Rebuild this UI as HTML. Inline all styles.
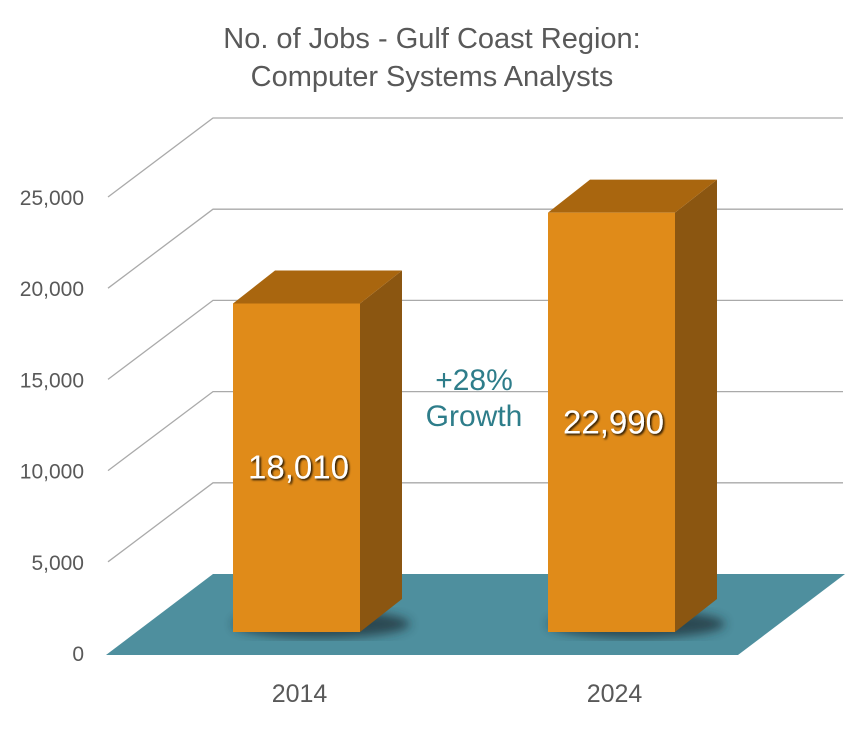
<!DOCTYPE html>
<html><head><meta charset="utf-8"><style>
body{margin:0;background:#fff;}
svg{display:block;font-family:"Liberation Sans",sans-serif;}
</style></head><body>
<svg id="chart" width="863" height="755">
<defs><filter id="blur"><feGaussianBlur stdDeviation="5"/></filter>
<filter id="ts"><feDropShadow dx="1.5" dy="1.5" stdDeviation="1" flood-color="#000" flood-opacity="0.9"/></filter></defs>
<text x="432" y="48" text-anchor="middle" font-size="29" fill="#595959">No. of Jobs - Gulf Coast Region:</text>
<text x="432" y="86" text-anchor="middle" font-size="29" fill="#595959">Computer Systems Analysts</text>
<g id="grid"></g><g id="floor"></g><g id="bars"></g><g id="labels"></g>
<text x="474" y="390" text-anchor="middle" font-size="30" fill="#2e7d8a">+28%</text>
<text x="474" y="426" text-anchor="middle" font-size="30" fill="#2e7d8a">Growth</text>
</svg>
<script>
const categories=["2014","2024"];
const values=[18010,22990];
const ticks=[0,5000,10000,15000,20000,25000];
const tickLabels=["0","5,000","10,000","15,000","20,000","25,000"];
const NS="http://www.w3.org/2000/svg";
const svg=document.getElementById('chart');
function mk(t,a,p){const e=document.createElementNS(NS,t);for(const k in a)e.setAttribute(k,a[k]);p.appendChild(e);return e;}
const k=91.2/5000;
const yFront=v=>653-v*k, yBack=v=>574-v*k, yBar=v=>632-v*k;
const grid=document.getElementById('grid');
ticks.forEach((t,i)=>{
 if(t>0){
 const l=mk('polyline',{points:`108,${yFront(t)} 213,${yBack(t)} 843,${yBack(t)}`,fill:'none',stroke:'#aaa','stroke-width':1.3},grid);
 
 }
 const tx=mk('text',{x:84,y:yFront(t)+8,'text-anchor':'end','font-size':21,fill:'#595959'},grid);
 tx.textContent=tickLabels[i];
 
 
});
const floor=mk('polygon',{points:'106,655 213,574 845,574 738,655',fill:'#4e8f9e'},document.getElementById('floor'));


const bars=document.getElementById('bars'),labels=document.getElementById('labels');
const xs=[233,548],w=127,dx=42,dy=33;
categories.forEach((c,i)=>{
 const x=xs[i],top=yBar(values[i]),bot=632;
 const g=mk('g',{},bars);
 
 
 mk('ellipse',{cx:x+w/2+25,cy:bot-8,rx:w/2+25,ry:14,fill:'#1a2b30',opacity:0.7,filter:'url(#blur)'},g);
 mk('polygon',{points:`${x+w},${top} ${x+w+dx},${top-dy} ${x+w+dx},${bot-dy} ${x+w},${bot}`,fill:'#8b5611'},g);
 mk('polygon',{points:`${x},${top} ${x+dx},${top-dy} ${x+w+dx},${top-dy} ${x+w},${top}`,fill:'#a9660f'},g);
 mk('rect',{x:x,y:top,width:w,height:bot-top,fill:'#e08b19'},g);
 const v=mk('text',{x:x+w/2+2,y:(top+bot)/2+11,'text-anchor':'middle','font-size':33,fill:'#fff',filter:'url(#ts)'},labels);
 v.textContent=values[i].toLocaleString('en-US');
 
 
 const xl=mk('text',{x:x+w/2+3,y:702,'text-anchor':'middle','font-size':25,fill:'#595959'},labels);
 xl.textContent=c;
 
 
});
</script>
</body></html>
